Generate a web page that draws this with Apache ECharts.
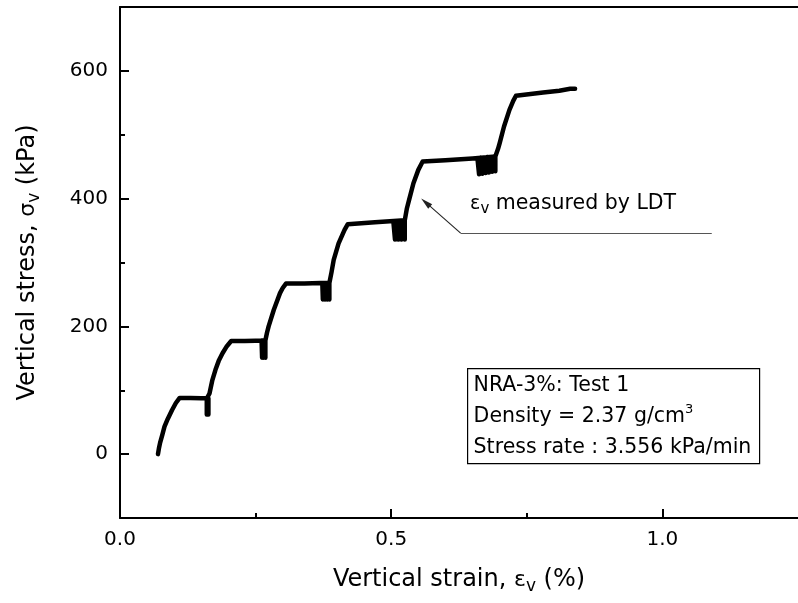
<!DOCTYPE html>
<html>
<head>
<meta charset="utf-8">
<script src="https://cdn.jsdelivr.net/npm/echarts@6/dist/echarts.min.js"></script>
<style>
html,body{margin:0;padding:0;background:#fff;}
#chart{width:798px;height:603px;}
</style>
</head>
<body>
<div id="chart"></div>
<script>
// ---- data (strain %, stress kPa) ----
const load1 = [[0.070,0],[0.072,10],[0.074,18],[0.078,30],[0.082,43],[0.088,55],[0.096,69],[0.103,80],[0.110,88]];
const hold1 = [[0.130,88],[0.150,87.5],[0.163,87.5]];
const cyc1  = [[0.163,62],[0.1615,87],[0.160,62],[0.160,87],[0.163,87.5]];
const load2 = [[0.165,95],[0.170,115],[0.176,132],[0.182,146],[0.189,158],[0.197,169],[0.205,177]];
const hold2 = [[0.230,177],[0.250,177.5],[0.268,178]];
const cyc2  = [[0.268,151],[0.2665,178],[0.265,151],[0.2635,178],[0.262,151],[0.261,178],[0.268,178]];
const load3 = [[0.271,190],[0.274,200],[0.2836,226],[0.295,252],[0.300,260],[0.306,267]];
const hold3 = [[0.340,267],[0.370,268],[0.386,268]];
const cyc3  = [[0.386,242],[0.384,268],[0.382,242],[0.380,268],[0.378,242],[0.376,268],[0.374,242],[0.373,268],[0.386,268]];
const load4 = [[0.390,285],[0.394,304],[0.403,330],[0.414,351],[0.420,360]];
const hold4 = [[0.421,361],[0.470,363],[0.525,366]];
const cyc4  = [[0.525,336],[0.522,366],[0.519,336],[0.516,365],[0.513,336],[0.510,365],[0.507,336],[0.504,364],[0.525,366]];
const load5 = [[0.529,385],[0.533,398],[0.541,424],[0.550,445],[0.558,458]];
const hold5 = [[0.600,460],[0.650,463],[0.692,466]];
const cyc5  = [[0.692,443],[0.689,466],[0.686,442],[0.683,465],[0.680,441],[0.677,465],[0.674,440],[0.671,464],[0.668,439],[0.665,464],[0.662,438],[0.659,463],[0.692,466]];
const load6 = [[0.697,478],[0.700,487],[0.708,513],[0.718,539],[0.725,553],[0.730,561]];
const hold6 = [[0.780,566],[0.810,569],[0.830,572],[0.839,572]];

const xMajor = [0, 0.5, 1.0];
const xMinor = [0.25, 0.75];
const yMajor = [0, 200, 400, 600];
const yMinor = [100, 300, 500];

// annotation (data coords)
const arrowTip = [0.5636, 394];
const arrowCorner = [0.628, 346];
const leaderEnd = [1.091, 346];
const annoTextAt = [0.6455, 383];

const curve = [].concat(load1, hold1, cyc1, load2, hold2, cyc2, load3, hold3, cyc3,
                        load4, hold4, cyc4, load5, hold5, cyc5, load6, hold6);

const FONT = '"DejaVu Sans", sans-serif';
const chart = echarts.init(document.getElementById('chart'), null, {renderer: 'canvas'});

const nameRich = {
  n: {fontFamily: FONT, fontSize: 24, lineHeight: 30, color: '#000'},
  g: {fontFamily: FONT, fontSize: 22, lineHeight: 30, color: '#000'},
  s: {fontFamily: FONT, fontSize: 17, lineHeight: 8, verticalAlign: 'bottom', color: '#000'}
};
const axisLine = {show: true, onZero: false, lineStyle: {color: '#000', width: 2}};

const option = {
  animation: false,
  backgroundColor: '#fff',
  grid: {left: 120, right: -9.5, top: 7, bottom: 85, containLabel: false},
  xAxis: [
    {
      type: 'value', min: 0, max: 1.25, position: 'bottom',
      axisLine: axisLine,
      axisTick: {show: true, inside: true, length: 9, customValues: xMajor, lineStyle: {color: '#000', width: 2}},
      axisLabel: {customValues: xMajor, fontFamily: FONT, fontSize: 20, color: '#000', margin: 12,
                  formatter: v => v.toFixed(1)},
      splitLine: {show: false},
      name: '{n|Vertical strain, }{g|ε}{s|v}{n| (%)}',
      nameLocation: 'middle', nameGap: 47,
      nameTextStyle: {rich: nameRich}
    },
    {
      type: 'value', min: 0, max: 1.25, position: 'bottom', offset: 0,
      axisLine: {show: false, onZero: false},
      axisTick: {show: true, inside: true, length: 5, customValues: xMinor, lineStyle: {color: '#000', width: 2}},
      axisLabel: {show: false}, splitLine: {show: false}
    },
    {
      type: 'value', min: 0, max: 1.25, position: 'top', offset: 0,
      axisLine: axisLine, axisTick: {show: false}, axisLabel: {show: false}, splitLine: {show: false}
    }
  ],
  yAxis: [
    {
      type: 'value', min: -100, max: 700, position: 'left',
      axisLine: axisLine,
      axisTick: {show: true, inside: true, length: 9, customValues: yMajor, lineStyle: {color: '#000', width: 2}},
      axisLabel: {customValues: yMajor, fontFamily: FONT, fontSize: 20, color: '#000', margin: 12},
      splitLine: {show: false},
      name: '{n|Vertical stress, }{g|σ}{s|v}{n| (kPa)}',
      nameLocation: 'middle', nameGap: 77,
      nameTextStyle: {rich: nameRich}
    },
    {
      type: 'value', min: -100, max: 700, position: 'left', offset: 0,
      axisLine: {show: false, onZero: false},
      axisTick: {show: true, inside: true, length: 5, customValues: yMinor, lineStyle: {color: '#000', width: 2}},
      axisLabel: {show: false}, splitLine: {show: false}
    }
  ],
  series: [
    {
      type: 'line', xAxisIndex: 0, yAxisIndex: 0,
      data: curve, showSymbol: false, symbol: 'none', smooth: false,
      lineStyle: {color: '#000', width: 4.5, cap: 'round', join: 'round'},
      markLine: {
        silent: true, animation: false,
        label: {show: false},
        lineStyle: {color: '#222', width: 1.1, type: 'solid'},
        data: [
          [{coord: arrowCorner, symbol: 'none'}, {coord: arrowTip, symbol: 'triangle', symbolSize: [6, 12]}],
          [{coord: arrowCorner, symbol: 'none'}, {coord: leaderEnd, symbol: 'none', lineStyle: {color: '#555'}}]
        ]
      }
    }
  ]
};
chart.setOption(option);

const ap = chart.convertToPixel({xAxisIndex: 0, yAxisIndex: 0}, annoTextAt);
chart.setOption({
  graphic: [
    {
      type: 'text', left: ap[0], top: ap[1] - 16, silent: true,
      style: {
        text: '{g|ε}{s|v}{n| measured by LDT}',
        rich: {
          n: {fontFamily: FONT, fontSize: 20.5, lineHeight: 26, color: '#000'},
          g: {fontFamily: FONT, fontSize: 19, lineHeight: 26, color: '#000'},
          s: {fontFamily: FONT, fontSize: 15, lineHeight: 6, verticalAlign: 'bottom', color: '#000'}
        }
      }
    },
    {
      type: 'group', left: 467, top: 368,
      children: [
        {type: 'rect', shape: {x: 0, y: 0, width: 292, height: 95},
         style: {fill: '#fff', stroke: '#000', lineWidth: 1.2}},
        {type: 'text', x: 6, y: 17, style: {text: 'NRA-3%: Test 1', fontFamily: FONT, fontSize: 20.5, fill: '#000', verticalAlign: 'middle'}},
        {type: 'text', x: 6, y: 48, style: {
          text: '{n|Density = 2.37 g/cm}{p|3}', verticalAlign: 'middle',
          rich: {
            n: {fontFamily: FONT, fontSize: 20.5, lineHeight: 26, color: '#000'},
            p: {fontFamily: FONT, fontSize: 13, lineHeight: 8, verticalAlign: 'top', color: '#000'}
          }}},
        {type: 'text', x: 6, y: 79, style: {text: 'Stress rate : 3.556 kPa/min', fontFamily: FONT, fontSize: 20.5, fill: '#000', verticalAlign: 'middle'}}
      ]
    }
  ]
});
</script>
</body>
</html>
